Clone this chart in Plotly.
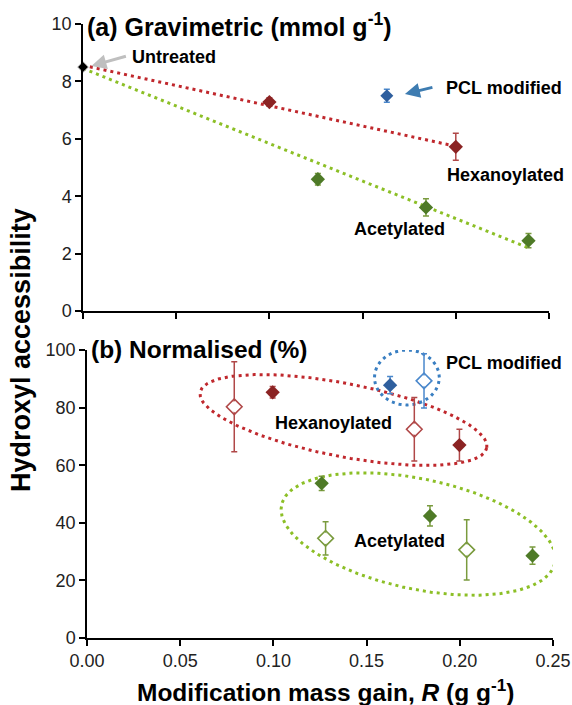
import numpy as np
import plotly.graph_objects as go

# ---------------- data ----------------
# (a) Gravimetric, mmol g-1
untreated_x = [0.0]
untreated_y = [8.5]

grav_hex_x = [0.100, 0.200]
grav_hex_y = [7.28, 5.72]
grav_hex_err = [0.15, 0.47]

grav_pcl_x = [0.163]
grav_pcl_y = [7.50]
grav_pcl_err = [0.23]

grav_ac_x = [0.126, 0.184, 0.239]
grav_ac_y = [4.59, 3.61, 2.45]
grav_ac_err = [0.20, 0.30, 0.25]

# dotted trend lines (end points)
trend_hex_x = [0.0, 0.200]
trend_hex_y = [8.56, 5.74]
trend_ac_x = [0.0, 0.239]
trend_ac_y = [8.45, 2.20]

# (b) Normalised, %
norm_hex_fill_x = [0.0996, 0.1998]
norm_hex_fill_y = [85.3, 67.0]
norm_hex_fill_err = [2.0, 5.5]

norm_hex_open_x = [0.079, 0.1756]
norm_hex_open_y = [80.3, 72.5]
norm_hex_open_err = [15.6, 11.0]

norm_pcl_fill_x = [0.1626]
norm_pcl_fill_y = [87.8]
norm_pcl_fill_err = [3.0]

norm_pcl_open_x = [0.1808]
norm_pcl_open_y = [89.3]
norm_pcl_open_err = [9.4]

norm_ac_fill_x = [0.1259, 0.184, 0.239]
norm_ac_fill_y = [53.7, 42.4, 28.6]
norm_ac_fill_err = [2.5, 3.5, 3.0]

norm_ac_open_x = [0.128, 0.2037]
norm_ac_open_y = [34.6, 30.6]
norm_ac_open_err = [5.8, 10.5]

x_ticks = [0.0, 0.05, 0.10, 0.15, 0.20, 0.25]
y_ticks_a = [0, 2, 4, 6, 8, 10]
y_ticks_b = [0, 20, 40, 60, 80, 100]

# ---------------- styles ----------------
FONT = "Liberation Sans, Arial, sans-serif"
RED_FILL, RED_ERR, RED_LINE = "#8B2323", "#B04848", "#C0282D"
GRN_FILL, GRN_ERR, GRN_LINE = "#4E7A27", "#7A9B3E", "#8CBF26"
BLU_FILL, BLU_ERR, BLU_LINE = "#2F5F9E", "#4A88CC", "#3A7FC2"

W, H = 572, 705
ML, MR, MT, MB = 83, 19, 24, 67
PW, PH = W - ML - MR, H - MT - MB

fig = go.Figure()


def pts(x, y, err, color, errcolor, xa, ya, open_=False, size=10):
    fig.add_trace(go.Scatter(
        x=x, y=y, mode="markers", xaxis=xa, yaxis=ya, showlegend=False,
        marker=dict(symbol="diamond-open" if open_ else "diamond",
                    size=size, color=errcolor if open_ else color,
                    line=dict(width=1.6 if open_ else 0, color=errcolor)),
        error_y=dict(type="data", array=err, color=errcolor, thickness=1.5, width=3)
        if err is not None else None,
    ))
    if open_:
        fig.add_trace(go.Scatter(
            x=x, y=y, mode="markers", xaxis=xa, yaxis=ya, showlegend=False,
            marker=dict(symbol="diamond", size=size - 3, color="white")))


def dotted(x, y, color, xa, ya):
    fig.add_trace(go.Scatter(x=x, y=y, mode="lines", xaxis=xa, yaxis=ya,
                             showlegend=False,
                             line=dict(color=color, width=3, dash="3px,4px")))


# ---- panel (a) ----
dotted(trend_hex_x, trend_hex_y, RED_LINE, "x", "y")
dotted(trend_ac_x, trend_ac_y, GRN_LINE, "x", "y")
pts(grav_hex_x, grav_hex_y, grav_hex_err, RED_FILL, RED_ERR, "x", "y", size=11)
pts(grav_pcl_x, grav_pcl_y, grav_pcl_err, BLU_FILL, BLU_ERR, "x", "y", size=10)
pts(grav_ac_x, grav_ac_y, grav_ac_err, GRN_FILL, GRN_ERR, "x", "y", size=11)
fig.add_trace(go.Scatter(x=untreated_x, y=untreated_y, mode="markers", xaxis="x",
                         yaxis="y", showlegend=False, cliponaxis=False,
                         marker=dict(symbol="diamond", size=8, color="black",
                                     line=dict(width=1, color="#888888"))))

# ---- panel (b) ellipses (centre in data units, semi-axes in pixels) ----
bx_dom = (466.0 / PW)
sx = 466.0 / 0.25   # px per x unit in panel b
sy = 288.0 / 100.0  # px per y unit in panel b
ellipses = [
    (0.1376, 75.7, 146.0, 36.6, -11.0, RED_LINE),
    (0.1777, 36.1, 139.7, 55.1, -12.0, GRN_LINE),
    (0.1716, 90.45, 32.5, 27.5, 0.0, BLU_LINE),
]
t = np.linspace(0, 2 * np.pi, 240)
for cx, cy, a, b, ang, col in ellipses:
    th = np.deg2rad(ang)
    px = a * np.cos(t) * np.cos(th) - b * np.sin(t) * np.sin(th)
    py = a * np.cos(t) * np.sin(th) + b * np.sin(t) * np.cos(th)
    dotted(cx + px / sx, cy + py / sy, col, "x2", "y2")

pts(norm_hex_open_x, norm_hex_open_y, norm_hex_open_err, RED_FILL, RED_ERR, "x2", "y2", open_=True, size=12)
pts(norm_hex_fill_x, norm_hex_fill_y, norm_hex_fill_err, RED_FILL, RED_ERR, "x2", "y2", size=11)
pts(norm_pcl_open_x, norm_pcl_open_y, norm_pcl_open_err, BLU_FILL, BLU_ERR, "x2", "y2", open_=True, size=12)
pts(norm_pcl_fill_x, norm_pcl_fill_y, norm_pcl_fill_err, BLU_FILL, BLU_ERR, "x2", "y2", size=11)
pts(norm_ac_open_x, norm_ac_open_y, norm_ac_open_err, GRN_FILL, GRN_ERR, "x2", "y2", open_=True, size=12)
pts(norm_ac_fill_x, norm_ac_fill_y, norm_ac_fill_err, GRN_FILL, GRN_ERR, "x2", "y2", size=11)

# ---------------- axes ----------------
axis_common = dict(showline=True, linecolor="black", linewidth=1.5, ticks="outside",
                   ticklen=6, tickwidth=1.5, tickcolor="black", showgrid=False,
                   zeroline=False, automargin=False,
                   tickfont=dict(family=FONT, size=18, color="#222222"))

top_y0 = (H - MB - 311) / PH
bot_y1 = (H - MB - 350) / PH

fig.update_layout(
    width=W, height=H, margin=dict(l=ML, r=MR, t=MT, b=MB, autoexpand=False),
    paper_bgcolor="white", plot_bgcolor="white",
    xaxis=dict(domain=[0, 466.0 / PW], range=[0, 0.25], tickvals=x_ticks,
               showticklabels=False, anchor="y", **axis_common),
    yaxis=dict(domain=[top_y0, 1], range=[0, 10], tickvals=y_ticks_a,
               anchor="x", **axis_common),
    xaxis2=dict(domain=[1 - bx_dom, 1], range=[0, 0.25], tickvals=x_ticks,
                tickformat=".2f", anchor="y2", **axis_common),
    yaxis2=dict(domain=[0, bot_y1], range=[0, 100], tickvals=y_ticks_b,
                anchor="x2", **axis_common),
)

ann_font = dict(family=FONT, size=18, color="black")
title_font = dict(family=FONT, size=25, color="black")
anns = [
    # panel a
    dict(x=0.001, y=9.97, xref="x", yref="y", text="<b>(a) Gravimetric (mmol g<sup>-1</sup>)</b>",
         font=title_font),
    dict(x=0.0252, y=8.85, xref="x", yref="y", text="<b>Untreated</b>", font=ann_font),
    dict(x=0.1937, y=7.77, xref="x", yref="y", text="<b>PCL modified</b>", font=ann_font),
    dict(x=0.1942, y=4.74, xref="x", yref="y", text="<b>Hexanoylated</b>", font=ann_font),
    dict(x=0.1443, y=2.86, xref="x", yref="y", text="<b>Acetylated</b>", font=ann_font),
    # panel b
    dict(x=0.001, y=99.9, xref="x2", yref="y2", yshift=1,
         text="<b>(b) Normalised (%)</b>", font=dict(family=FONT, size=24.5, color="black")),
    dict(x=0.1915, y=95.5, xref="x2", yref="y2", text="<b>PCL modified</b>", font=ann_font),
    dict(x=0.0998, y=74.7, xref="x2", yref="y2", text="<b>Hexanoylated</b>", font=ann_font),
    dict(x=0.1422, y=33.7, xref="x2", yref="y2", text="<b>Acetylated</b>", font=ann_font),
]
for a in anns:
    fig.add_annotation(showarrow=False, xanchor="left", yanchor="middle", **a)

# arrows
fig.add_annotation(x=0.0045, y=8.54, xref="x", yref="y", ax=36, ay=-10, text="",
                   showarrow=True, arrowhead=2, arrowsize=1, arrowwidth=3,
                   arrowcolor="#BFBFBF")
fig.add_annotation(x=0.1727, y=7.56, xref="x", yref="y", ax=29, ay=-7, text="",
                   showarrow=True, arrowhead=2, arrowsize=1, arrowwidth=3,
                   arrowcolor="#3E7CB1")

# shared axis titles
fig.add_annotation(x=(21 - ML) / PW, y=(H - MB - 350) / PH, xref="paper", yref="paper",
                   text="<b>Hydroxyl accessibility</b>", textangle=-90, showarrow=False,
                   font=dict(family=FONT, size=27, color="black"),
                   xanchor="center", yanchor="middle")
fig.add_annotation(x=(325 - ML) / PW, y=-(690 - (H - MB)) / PH, xref="paper", yref="paper",
                   text="<b>Modification mass gain, <i>R</i> (g g<sup>-1</sup>)</b>",
                   showarrow=False, font=dict(family=FONT, size=24.5, color="black"),
                   xanchor="center", yanchor="middle")

fig.write_html("out.html")
